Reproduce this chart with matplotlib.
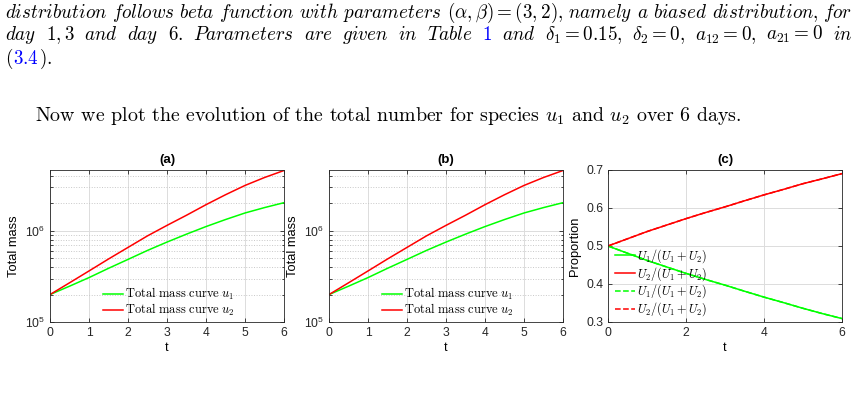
import numpy as np
import matplotlib
matplotlib.use('Agg')
import matplotlib.pyplot as plt
from matplotlib.ticker import LogLocator, NullFormatter, MultipleLocator

# values (t in days)
t = [0, 0.5, 1, 1.5, 2, 2.5, 3, 3.5, 4, 4.5, 5, 5.5, 6]
mass_u1 = [2.00e5, 2.47e5, 3.07e5, 3.88e5, 4.86e5, 6.10e5, 7.53e5,
           9.20e5, 1.114e6, 1.330e6, 1.570e6, 1.799e6, 2.037e6]
mass_u2 = [2.00e5, 2.69e5, 3.63e5, 4.91e5, 6.58e5, 8.81e5, 1.148e6,
           1.483e6, 1.936e6, 2.489e6, 3.148e6, 3.846e6, 4.592e6]
prop_u1 = [0.500, 0.481, 0.462, 0.445, 0.428, 0.412, 0.397,
           0.381, 0.3655, 0.351, 0.336, 0.322, 0.309]
prop_u2 = [0.500, 0.519, 0.538, 0.555, 0.572, 0.588, 0.603,
           0.619, 0.6345, 0.649, 0.664, 0.677, 0.6905]
panel_titles = ['(a)', '(b)', '(c)']

plt.rcParams['font.family'] = ['Liberation Sans', 'DejaVu Sans']
plt.rcParams['mathtext.fontset'] = 'cm'

GREEN = '#00ff00'
RED = '#ff0000'
DARK = '#262626'
BLUE = '#0000ff'

fig = plt.figure(figsize=(8.58, 4), dpi=100)
W, H = 858, 400


def style(ax):
    for s in ax.spines.values():
        s.set_color(DARK)
        s.set_linewidth(0.6)
    ax.tick_params(which='both', direction='in', top=True, right=True,
                   colors=DARK, labelsize=8.7, width=0.6)
    ax.tick_params(which='major', length=3)
    ax.tick_params(which='minor', length=1.8)
    ax.grid(True, which='major', color='#dcdcdc', lw=0.7)
    ax.set_axisbelow(True)


def mass_panel(ax, title):
    ax.plot(t, mass_u1, color=GREEN, lw=1.1, label=r'$\mathrm{Total\ mass\ curve}\ u_1$')
    ax.plot(t, mass_u2, color=RED, lw=1.1, label=r'$\mathrm{Total\ mass\ curve}\ u_2$')
    ax.set_yscale('log')
    ax.set_xlim(0, 6)
    ax.set_ylim(1e5, 4.65e6)
    ax.xaxis.set_major_locator(MultipleLocator(1))
    ax.yaxis.set_major_locator(LogLocator(base=10, numticks=5))
    ax.yaxis.set_minor_locator(LogLocator(base=10, subs=np.arange(2, 10), numticks=20))
    ax.yaxis.set_minor_formatter(NullFormatter())
    style(ax)
    ax.grid(True, which='minor', axis='y', color='#c8c8c8', ls=':', lw=0.7)
    ax.set_xlabel('t', fontsize=9, labelpad=2)
    ax.set_ylabel('Total mass', fontsize=9.3)
    ax.set_title(title, fontsize=9.5, fontweight='bold', pad=5)
    ax.legend(loc='lower left', bbox_to_anchor=(0.225, 0.025), frameon=False,
              fontsize=9, handlelength=1.6, handletextpad=0.2,
              labelspacing=0.0, borderpad=0, borderaxespad=0)


ax1 = fig.add_axes([50 / W, 1 - 322 / H, 234 / W, 152 / H])
ax2 = fig.add_axes([329 / W, 1 - 322 / H, 234 / W, 152 / H])
ax3 = fig.add_axes([608 / W, 1 - 322 / H, 234 / W, 152 / H])

mass_panel(ax1, panel_titles[0])
mass_panel(ax2, panel_titles[1])

lab1 = r'$U_1/(U_1+U_2)$'
lab2 = r'$U_2/(U_1+U_2)$'
ax3.plot(t, prop_u1, color=GREEN, lw=1.1, label=lab1)
ax3.plot(t, prop_u2, color=RED, lw=1.1, label=lab2)
ax3.plot(t, prop_u1, color=GREEN, lw=1.1, ls='--', label=lab1)
ax3.plot(t, prop_u2, color=RED, lw=1.1, ls='--', label=lab2)
ax3.set_xlim(0, 6)
ax3.set_ylim(0.3, 0.7)
ax3.xaxis.set_major_locator(MultipleLocator(2))
ax3.yaxis.set_major_locator(MultipleLocator(0.1))
style(ax3)
ax3.set_xlabel('t', fontsize=9, labelpad=2)
ax3.set_ylabel('Proportion', fontsize=9.3)
ax3.set_title(panel_titles[2], fontsize=9.5, fontweight='bold', pad=5)
ax3.legend(loc='lower left', bbox_to_anchor=(0.03, 0.025), frameon=False,
           fontsize=8.8, handlelength=1.6, handletextpad=0.2,
           labelspacing=0.0, borderpad=0, borderaxespad=0)

# paragraph text above the figure
renderer = fig.canvas.get_renderer()

line4 = fig.text(35 / W, 1 - 121 / H,
                 r'Now we plot the evolution of the total number for species $u_1$ and $u_2$ over 6 days.',
                 fontfamily='cmr10', fontsize=12, ha='left', va='baseline')
size = 12 * 707 / line4.get_window_extent(renderer).width
line4.set_fontsize(size)
size_it = size * 0.96


def put_words(words, x0, x1, y0, gap=None):
    texts = []
    widths = []
    for s, c in words:
        tx = fig.text(0, 1 - y0 / H, s, color=c, fontsize=size_it,
                      ha='left', va='baseline')
        texts.append(tx)
        widths.append(tx.get_window_extent(renderer).width)
    if gap is None:
        gap = (x1 - x0 - sum(widths)) / (len(words) - 1)
    x = x0
    for tx, w in zip(texts, widths):
        tx.set_x(x / W)
        x += w + gap


line1 = [r'$\mathit{distribution}$', r'$\mathit{follows}$', r'$\mathit{beta}$',
         r'$\mathit{function}$', r'$\mathit{with}$', r'$\mathit{parameters}$',
         r'$(\alpha,\beta)=(3,2),$', r'$\mathit{namely}$', r'$\mathit{a}$',
         r'$\mathit{biased}$', r'$\mathit{distribution,}$', r'$\mathit{for}$']
put_words([(w, 'black') for w in line1], 5, 852, 18)

line2 = [(r'$\mathit{day}$', 'black'), (r'$1,3$', 'black'), (r'$\mathit{and}$', 'black'),
         (r'$\mathit{day}$', 'black'), (r'$6.\ $', 'black'), (r'$\mathit{Parameters}$', 'black'),
         (r'$\mathit{are}$', 'black'), (r'$\mathit{given}$', 'black'), (r'$\mathit{in}$', 'black'),
         (r'$\mathit{Table}$', 'black'), (r'$1$', BLUE), (r'$\mathit{and}$', 'black'),
         (r'$\delta_1=0.15,$', 'black'), (r'$\delta_2=0,$', 'black'),
         (r'$a_{12}=0,$', 'black'), (r'$a_{21}=0$', 'black'), (r'$\mathit{in}$', 'black')]
put_words(line2, 5, 852, 40)

put_words([(r'$($', 'black'), (r'$3.4$', BLUE), (r'$).$', 'black')], 5, 852, 64, gap=0)

fig.savefig('out.png', dpi=100)
